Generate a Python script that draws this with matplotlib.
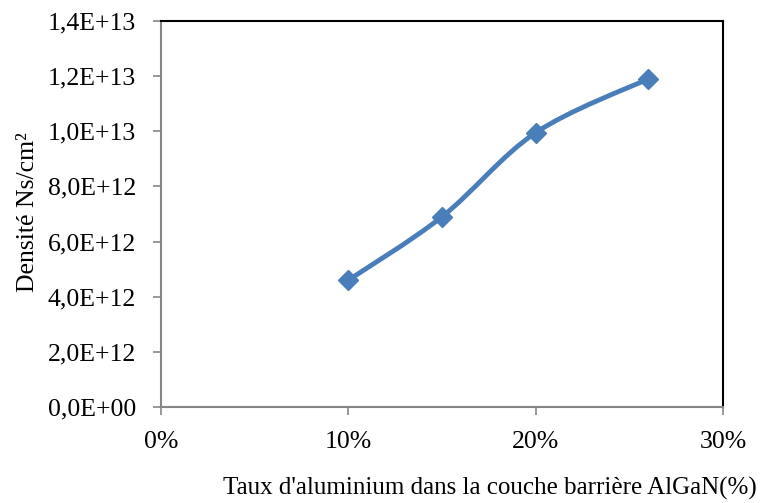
import matplotlib
matplotlib.use("Agg")
import matplotlib.pyplot as plt
import numpy as np
from matplotlib.path import Path
from matplotlib.patches import PathPatch
from matplotlib.ticker import FuncFormatter

taux_al = [0.10, 0.15, 0.20, 0.26]
densite_ns = [4.6e12, 6.9e12, 9.95e12, 1.19e13]

x_ticks = [0.0, 0.10, 0.20, 0.30]
y_ticks = [0, 2e12, 4e12, 6e12, 8e12, 1e13, 1.2e13, 1.4e13]

BLEU = '#4a7ebb'
GRIS = '#868686'

plt.rcParams['font.family'] = ['Liberation Serif', 'DejaVu Serif']


def courbe_lissee(x, y):
    # bezier a la maniere d'Excel (tangentes type Catmull-Rom)
    p = np.column_stack([x, y])
    ext = np.vstack([p[0], p, p[-1]])
    verts = [p[0]]
    codes = [Path.MOVETO]
    for i in range(len(p) - 1):
        p0, p1, p2, p3 = ext[i], ext[i + 1], ext[i + 2], ext[i + 3]
        c1 = p1 + (p2 - p0) / 6.0
        c2 = p2 - (p3 - p1) / 6.0
        verts += [c1, c2, p2]
        codes += [Path.CURVE4] * 3
    return Path(verts, codes)


def fmt_sci(v, pos):
    return ('%.1E' % v).replace('.', ',')


fig = plt.figure(figsize=(7.61, 5.03), dpi=100)
ax = fig.add_axes([161 / 761, 96 / 503, 562 / 761, 386 / 503])

ax.add_patch(PathPatch(courbe_lissee(taux_al, densite_ns), facecolor='none',
                       edgecolor=BLEU, linewidth=3.5, capstyle='round', zorder=3))
ax.plot(taux_al, densite_ns, linestyle='none', marker='D', markersize=10.5,
        color=BLEU, zorder=4)

ax.set_xlim(0, 0.30)
ax.set_ylim(0, 1.4e13)
ax.set_xticks(x_ticks)
ax.set_yticks(y_ticks)
ax.xaxis.set_major_formatter(FuncFormatter(lambda v, p: '%d%%' % round(v * 100)))
ax.yaxis.set_major_formatter(FuncFormatter(fmt_sci))
ax.tick_params(axis='both', direction='out', length=6, width=1.2, color=GRIS,
               labelsize=18.5)
ax.tick_params(axis='x', pad=11)
ax.tick_params(axis='y', pad=12)

for s in ['left', 'bottom']:
    ax.spines[s].set_color(GRIS)
    ax.spines[s].set_linewidth(1.5)
for s in ['top', 'right']:
    ax.spines[s].set_color('black')
    ax.spines[s].set_linewidth(1.5)

fig.text(28 / 761, 1 - 212 / 503, 'Densité Ns/cm²', rotation=90, fontsize=18.5,
         ha='center', va='center')
fig.text(490 / 761, 1 - 488 / 503, "Taux d'aluminium dans la couche barrière AlGaN(%)",
         fontsize=18, ha='center', va='center')

fig.savefig('out.png', dpi=100)
